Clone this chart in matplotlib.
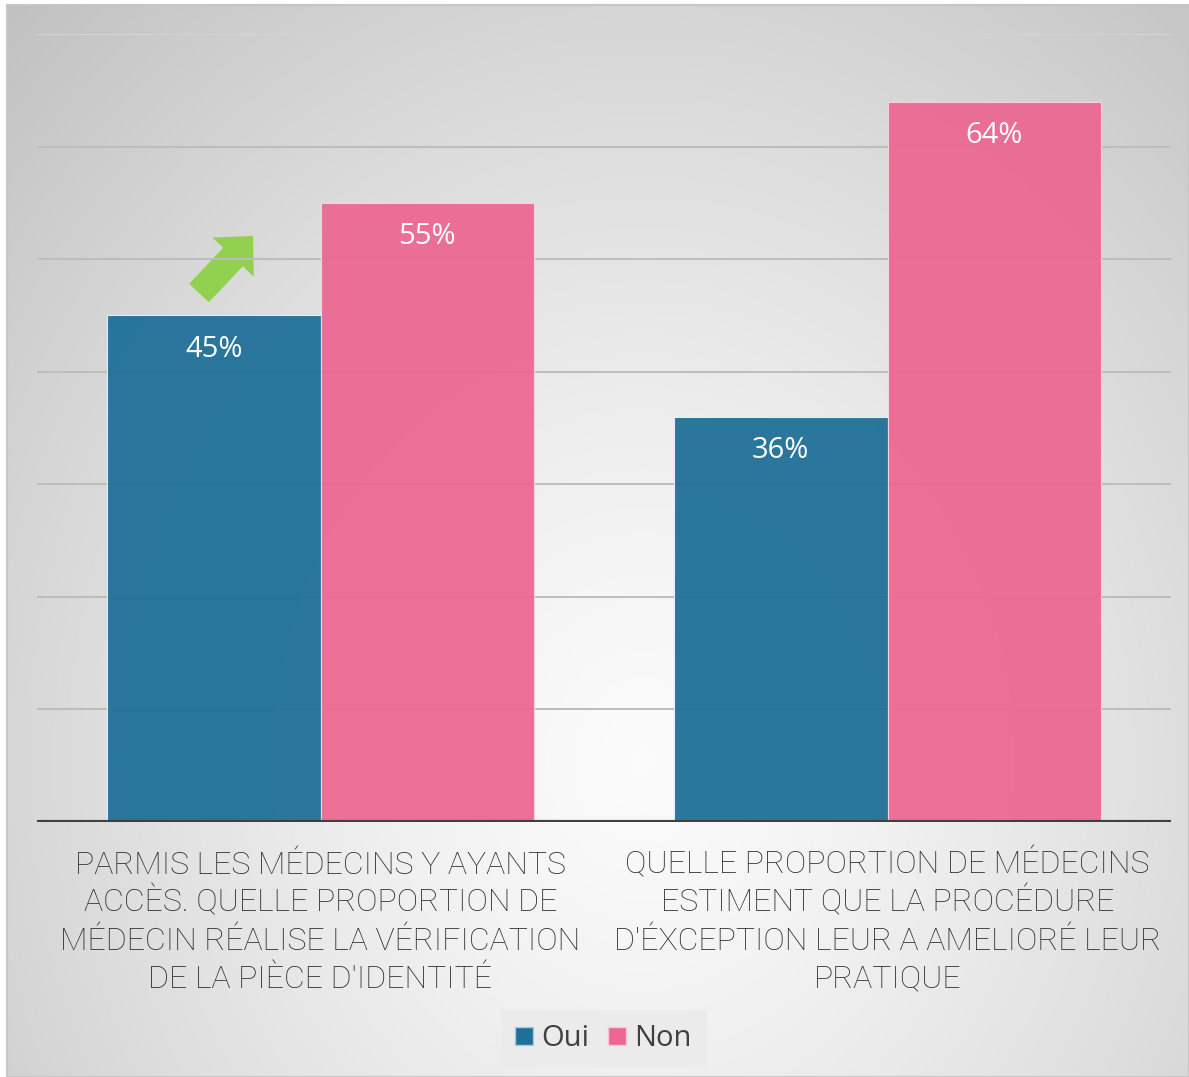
import numpy as np
import matplotlib
matplotlib.use("Agg")
import matplotlib.pyplot as plt
import matplotlib.transforms as mtransforms
from matplotlib.patches import Rectangle, FancyArrow, Patch

categories = [["PARMIS LES MÉDECINS Y AYANTS", "ACCÈS. QUELLE PROPORTION DE",
               "MÉDECIN RÉALISE LA VÉRIFICATION", "DE LA PIÈCE D'IDENTITÉ"],
              ["QUELLE PROPORTION DE MÉDECINS", "ESTIMENT QUE LA PROCÉDURE",
               "D'ÉXCEPTION LEUR A AMELIORÉ LEUR", "PRATIQUE"]]
series_names = ["Oui", "Non"]
oui = [45, 36]
non = [55, 64]
colors = ["#1f7099", "#ec6892"]

W, H = 1189, 1077
fig = plt.figure(figsize=(W/100, H/100), dpi=100)
fig.patch.set_facecolor("white")

# background gradient axes (pixel coordinates)
bg = fig.add_axes([0, 0, 1, 1], zorder=-1)
bg.set_xlim(0, W); bg.set_ylim(H, 0); bg.axis("off")
yy, xx = np.mgrid[0:H, 0:W]
cx, cy = 640, 760
d = np.sqrt(((xx - cx) / 1.0) ** 2 + ((yy - cy) / 1.15) ** 2)
d = d / d.max()
val = 0.985 - 0.23 * d ** 1.3
img = np.dstack([val, val, val])
bg.imshow(img, extent=(7, 1188, 1076, 5), aspect="auto", interpolation="bilinear")
bg.add_patch(Rectangle((6.5, 4.5), 1182, 1072, fill=False, ec="#c6c6c6", lw=1.5))

# arrow
bg.add_patch(FancyArrow(199, 293, 54, -57, width=27, head_width=57, head_length=29,
                        length_includes_head=True, color="#92d050", lw=0))

# main axes
left, right, bottom, top = 37, 1171, 822, 34
ax = fig.add_axes([left / W, (H - bottom) / H, (right - left) / W, (bottom - top) / H])
ax.set_facecolor("none")
ax.set_xlim(-0.5, 1.5)
ax.set_ylim(0, 70)
x = np.arange(len(categories))
bw = 0.3765
b1 = ax.bar(x - bw / 2, oui, bw, color=colors[0], alpha=0.95, edgecolor="#e8f0f4", linewidth=0.8, zorder=3)
b2 = ax.bar(x + bw / 2, non, bw, color=colors[1], alpha=0.95, edgecolor="#f7d6e0", linewidth=0.8, zorder=3)
for bars in (b1, b2):
    for r in bars:
        ax.annotate(f"{int(r.get_height())}%", (r.get_x() + r.get_width() / 2, r.get_height()),
                    xytext=(0, -24.5), textcoords="offset points", ha="center", va="center",
                    color="white", fontsize=21, family="Open Sans", zorder=4)
for gy in range(10, 71, 10):
    ax.axhline(gy, color="#bdbdbd" if gy < 70 else "#d4d4d4", lw=1.4, zorder=1)
ax.axhline(0, color="#404040", lw=3, zorder=5)
for s in ax.spines.values():
    s.set_visible(False)
ax.set_xticks([]); ax.set_yticks([])

# category labels: x from data, y in pixels
tr = mtransforms.blended_transform_factory(ax.transData, bg.transData)
baselines = [873.5, 911.5, 949.5, 987.5]
for i, lines in enumerate(categories):
    for j, line in enumerate(lines):
        fig.text(i, baselines[j], line, transform=tr, ha="center", va="baseline",
                 fontsize=23, family="Roboto", fontweight="light", color="#2e2e2e")

handles = [Patch(facecolor=colors[0], edgecolor="#a9cbdc", lw=1), Patch(facecolor=colors[1], edgecolor="#f8c8d8", lw=1)]
leg = fig.legend(handles, series_names, loc="center", bbox_to_anchor=(603.5 / W, (H - 1039) / H),
                 ncol=2, frameon=True, fancybox=False, handlelength=0.6, handleheight=0.6,
                 handletextpad=0.3, columnspacing=0.65, borderpad=0.5, borderaxespad=0,
                 prop={"family": "Open Sans", "size": 21})
leg.get_frame().set_facecolor("#ebebeb")
leg.get_frame().set_edgecolor("none")
leg.get_frame().set_alpha(1)
for t in leg.get_texts():
    t.set_color("#404040")

fig.savefig("out.png", dpi=100, facecolor="white")
